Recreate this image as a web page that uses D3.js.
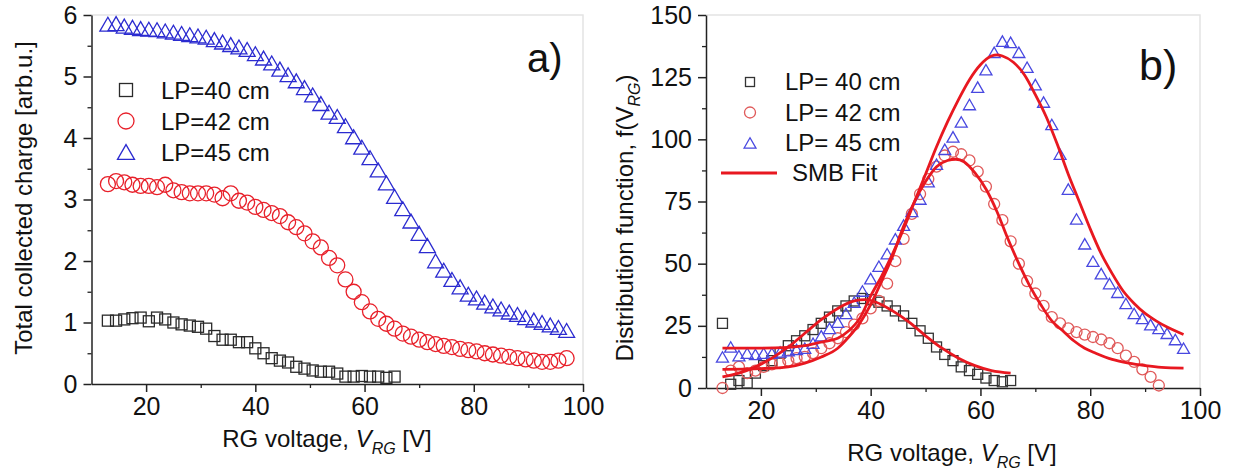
<!DOCTYPE html>
<html><head><meta charset="utf-8">
<script src="https://cdn.jsdelivr.net/npm/d3@7"></script>
<style>body{margin:0;background:#fff}svg{display:block}text{font-family:Arial,"Liberation Sans",sans-serif;fill:#111}</style>
</head><body><svg id="c" width="1238" height="475"></svg>
<script>
// ---------- data ----------
const xGrid57 = [13,14.5,16,17.5,19,20.5,22,23.5,25,26.5,28,29.5,31,32.5,34,35.5,37,38.5,40,41.5,43,44.5,46,47.5,49,50.5,52,53.5,55,56.5,58,59.5,61,62.5,64,65.5,67,68.5,70,71.5,73,74.5,76,77.5,79,80.5,82,83.5,85,86.5,88,89.5,91,92.5,94,95.5,97];
const xGrid54 = [13,14.5,16,17.5,19,20.5,22,23.5,25,26.5,28,29.5,31,32.5,34,35.5,37,38.5,40,41.5,43,44.5,46,47.5,49,50.5,52,53.5,55,56.5,58,59.5,61,62.5,64,65.5,67,68.5,70,71.5,73,74.5,76,77.5,79,80.5,82,83.5,85,86.5,88,89.5,91,92.5];
const xGrid36 = [13,14.5,16,17.5,19,20.5,22,23.5,25,26.5,28,29.5,31,32.5,34,35.5,37,38.5,40,41.5,43,44.5,46,47.5,49,50.5,52,53.5,55,56.5,58,59.5,61,62.5,64,65.5];

// panel a) total collected charge
const chargeLP40 = [1.03,1.03,1.05,1.07,1.08,1.02,1.08,1.05,1.0,0.97,0.95,0.93,0.9,0.78,0.72,0.72,0.68,0.68,0.58,0.5,0.42,0.38,0.35,0.28,0.25,0.22,0.2,0.2,0.17,0.12,0.12,0.13,0.12,0.12,0.1,0.12];
const chargeLP42 = [3.25,3.3,3.28,3.24,3.22,3.22,3.2,3.24,3.15,3.12,3.1,3.1,3.1,3.08,3.02,3.1,2.98,2.95,2.88,2.83,2.78,2.73,2.63,2.55,2.45,2.32,2.22,2.05,1.93,1.7,1.5,1.33,1.18,1.06,0.98,0.9,0.82,0.77,0.72,0.68,0.65,0.62,0.6,0.57,0.55,0.53,0.5,0.48,0.46,0.44,0.42,0.4,0.38,0.36,0.36,0.38,0.42];
const chargeLP45 = [5.85,5.86,5.82,5.80,5.78,5.77,5.76,5.74,5.72,5.70,5.68,5.66,5.64,5.60,5.56,5.52,5.48,5.44,5.37,5.30,5.22,5.12,5.03,4.93,4.82,4.70,4.56,4.42,4.35,4.2,4.02,3.85,3.68,3.48,3.27,3.05,2.85,2.65,2.45,2.25,2.0,1.85,1.7,1.58,1.46,1.4,1.33,1.27,1.22,1.17,1.13,1.08,1.04,1.0,0.96,0.92,0.87];

// panel b) distribution function
const distLP40 = [26,1.5,3,2,6,9,11,14,17,19,21,23.5,26,28.5,31,33,35,36,35.5,34.5,33,31,29,26,23,20,16.5,13.5,11,8.5,7,5.5,4,3,2.5,3];
const distLP42 = [0,7,8.5,6,7,8.5,9.5,10,11,12,12.5,14,16,18,20,22.5,25.5,28,32,35,42,51,60,70,78,84,89,93.5,95,94,91.5,87,81,74,67.5,59,50,43,38,33,28.5,26,24,22.5,21.5,20.5,19.5,18,16,13,10.5,7.5,4.5,1];
const distLP45 = [12.5,16.5,13,14,13.5,14,14,14.5,15,15.5,16,18,21,24,26.5,30,34.5,39,44,49,54,60,65.5,71,76,83,90,96,101,107,114,121,128,135,139.5,139,135,129,122,115,106,94,80,68,58,51,46,42,38.5,34,30,28,25.5,24,22,19.5,16];

// SMB fits
const fit40X = [13,16,19,22,25,28,31,34,37,39,41,44,47,50,53,56,59,62,65.5];
const fit40Y = [4.5,6,8.5,12,16.5,22,27.5,32,35,35.5,34.5,31,26.5,21,16,12,9,7,6];
const fit42X = [13,20,25,28,31,34,36,38,40,42,44,46,48,50,52,54,55.5,57,59,61,63,65,67,69,71,73,75,77,79,81,84,87,90,93,97];
const fit42Y = [7.5,7.8,8.5,10,12.5,16,20.5,26,33.5,43,53,65,75,83,89,91.5,92,91,86.5,80,71,60,50,41,33.5,27,23,19,16,14,11.5,10,9,8.3,8];
const fit45X = [13,20,25,28,31,34,36,38,40,42,44,46,48,50,52,54,56,58,60,62,63,64,66,68,70,72,74,76,78,80,82,84,86,88,90,92,94,97];
const fit45Y = [16,16,16.3,17,18.5,20,23,28,37,45,54,64,75,86,97,107,116,124,130,133.5,134,133.5,131,126,118,109,98,86,75,64,54,46,39,34,30,27,24.5,21.5];

const xTicks = [20,40,60,80,100];
const xMinor = [30,50,70,90];
const yTicksA = [0,1,2,3,4,5,6];
const yMinorA = [0.5,1.5,2.5,3.5,4.5,5.5];
const yTicksB = [0,25,50,75,100,125,150];
const yMinorB = [12.5,37.5,62.5,87.5,112.5,137.5];
const legendA = ["LP=40 cm","LP=42 cm","LP=45 cm"];
const legendB = ["LP= 40 cm","LP= 42 cm","LP= 45 cm","SMB Fit"];

// ---------- drawing ----------
const svg = d3.select("#c");
const BLACK="#2a2a2a", RED="#e8202a", REDB="#e05a5a", BLUE="#2b2bd0", BLUEB="#4848e0", FIT="#e81820";
const FONT="Arial,'Liberation Sans',sans-serif";

function square(g, x, y, s, col){ g.append("rect").attr("x",x-s/2).attr("y",y-s/2).attr("width",s).attr("height",s).attr("fill","none").attr("stroke",col).attr("stroke-width",1.3); }
function circ(g, x, y, d, col){ g.append("circle").attr("cx",x).attr("cy",y).attr("r",d/2).attr("fill","none").attr("stroke",col).attr("stroke-width",1.3); }
function tri(g, x, y, w, col){ const h=w*0.87; g.append("path").attr("d",`M${x-w/2},${y+h/2}L${x},${y-h/2}L${x+w/2},${y+h/2}Z`).attr("fill","none").attr("stroke",col).attr("stroke-width",1.3); }

function panel(o){
  const g = svg.append("g");
  const x = d3.scaleLinear().domain([10,100]).range([o.x0,o.x1]);
  const y = d3.scaleLinear().domain(o.yDom).range([o.y0,o.y1]);
  g.append("path").attr("d",`M${o.x0},${o.y1}H${o.x1}V${o.y0}`).attr("fill","none").attr("stroke","#e4e4e4").attr("stroke-width",1.5);
  const xa = g.append("g").attr("transform",`translate(0,${o.y0})`)
    .call(d3.axisBottom(x).tickValues(xTicks).tickFormat(d3.format("d")).tickSize(8).tickSizeOuter(0).tickPadding(5));
  xa.select(".domain").attr("stroke","#222").attr("stroke-width",1.5);
  xa.selectAll(".tick line").attr("stroke","#222").attr("stroke-width",1.5);
  xa.selectAll("text").attr("font-size",25).attr("fill","#111").attr("font-family",FONT);
  g.append("g").attr("transform",`translate(0,${o.y0})`)
    .call(d3.axisBottom(x).tickValues(xMinor).tickSize(4).tickFormat(""))
    .call(s=>{s.select(".domain").remove(); s.selectAll("line").attr("stroke","#222").attr("stroke-width",1.3);});
  const ya = g.append("g").attr("transform",`translate(${o.x0},0)`)
    .call(d3.axisLeft(y).tickValues(o.yTicks).tickFormat(d3.format("d")).tickSize(8).tickSizeOuter(0).tickPadding(6));
  ya.select(".domain").attr("stroke","#222").attr("stroke-width",1.5);
  ya.selectAll(".tick line").attr("stroke","#222").attr("stroke-width",1.5);
  ya.selectAll("text").attr("font-size",25).attr("fill","#111").attr("font-family",FONT);
  g.append("g").attr("transform",`translate(${o.x0},0)`)
    .call(d3.axisLeft(y).tickValues(o.yMinor).tickSize(4).tickFormat(""))
    .call(s=>{s.select(".domain").remove(); s.selectAll("line").attr("stroke","#222").attr("stroke-width",1.3);});
  const xt = g.append("text").attr("x",o.xtX).attr("y",o.xtY).attr("text-anchor","middle").attr("font-size",24);
  xt.append("tspan").text("RG voltage, ");
  xt.append("tspan").attr("font-style","italic").text("V");
  xt.append("tspan").attr("font-style","italic").attr("font-size",16).attr("dy",7).text("RG");
  xt.append("tspan").attr("dy",-7).text(" [V]");
  return {g,x,y};
}

// ---- panel a
const A = panel({x0:91.5,x1:583,y0:384,y1:15,yDom:[0,6],yTicks:yTicksA,yMinor:yMinorA,xtX:327,xtY:447});
xGrid36.forEach((v,i)=>square(A.g, A.x(v), A.y(chargeLP40[i]), 11, BLACK));
xGrid57.forEach((v,i)=>circ(A.g, A.x(v), A.y(chargeLP42[i]), 15, RED));
xGrid57.forEach((v,i)=>tri(A.g, A.x(v), A.y(chargeLP45[i]), 16, BLUE));
svg.append("text").attr("transform","translate(32,198) rotate(-90)").attr("text-anchor","middle").attr("font-size",24).text("Total collected charge [arb.u.]");
svg.append("text").attr("x",527).attr("y",72).attr("font-size",40).text("a)");
const legA = svg.append("g");
[[square,13,BLACK],[circ,16,RED],[tri,17,BLUE]].forEach((m,i)=>{
  const cy = 90 + i*31;
  m[0](legA, 126, cy, m[1], m[2]);
  legA.append("text").attr("x",161).attr("y",cy+9).attr("font-size",24).text(legendA[i]);
});

// ---- panel b
const B = panel({x0:706,x1:1200,y0:388,y1:15,yDom:[0,150],yTicks:yTicksB,yMinor:yMinorB,xtX:952,xtY:461});
xGrid36.forEach((v,i)=>square(B.g, B.x(v), B.y(distLP40[i]), 10, "#333"));
xGrid54.forEach((v,i)=>circ(B.g, B.x(v), B.y(distLP42[i]), 11, REDB));
xGrid57.forEach((v,i)=>tri(B.g, B.x(v), B.y(distLP45[i]), 12, BLUEB));
const line = d3.line().x(d=>B.x(d[0])).y(d=>B.y(d[1])).curve(d3.curveMonotoneX);
[[fit40X,fit40Y],[fit42X,fit42Y],[fit45X,fit45Y]].forEach(f=>{
  B.g.append("path").attr("d",line(f[0].map((v,i)=>[v,f[1][i]]))).attr("fill","none").attr("stroke",FIT).attr("stroke-width",2.8);
});
const yt = svg.append("text").attr("transform","translate(633,218) rotate(-90)").attr("text-anchor","middle").attr("font-size",24);
yt.append("tspan").text("Distribution function, f(V");
yt.append("tspan").attr("font-style","italic").attr("font-size",16).attr("dy",7).text("RG");
yt.append("tspan").attr("dy",-7).text(")");
svg.append("text").attr("x",1139).attr("y",80).attr("font-size",43).text("b)");
const legB = svg.append("g");
[[square,9,"#333"],[circ,11,REDB],[tri,12,BLUEB]].forEach((m,i)=>{
  const cy = 82 + i*30.5;
  m[0](legB, 750, cy, m[1], m[2]);
  legB.append("text").attr("x",785).attr("y",cy+8).attr("font-size",24).text(legendB[i]);
});
legB.append("line").attr("x1",721).attr("x2",777).attr("y1",173).attr("y2",173).attr("stroke",FIT).attr("stroke-width",3);
legB.append("text").attr("x",792).attr("y",181).attr("font-size",24).text(legendB[3]);
</script></body></html>
